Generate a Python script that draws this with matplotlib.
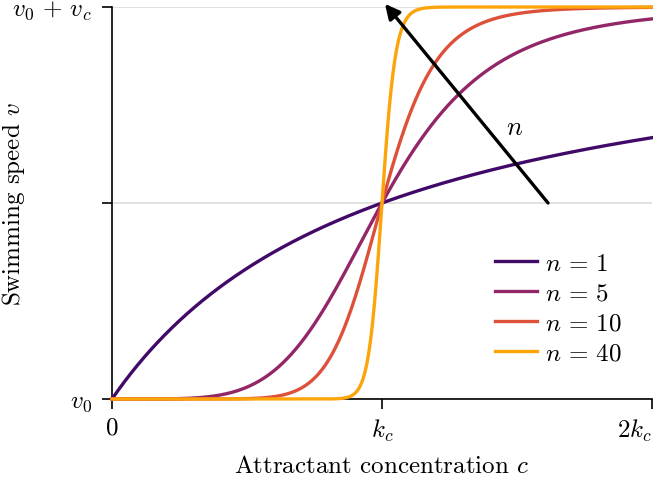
import numpy as np
import matplotlib
matplotlib.use("Agg")
import matplotlib.pyplot as plt

plt.rcParams['font.family'] = 'serif'
plt.rcParams['font.serif'] = ['cmr10']
plt.rcParams['mathtext.fontset'] = 'cm'
plt.rcParams['axes.unicode_minus'] = False
plt.rcParams['axes.formatter.use_mathtext'] = True

# Hill coefficients shown in the legend
hill_n = [1, 5, 10, 40]
color_pos = [0.2, 0.4, 0.6, 0.8]
legend_labels = [r'$n\,=\,1$', r'$n\,=\,5$', r'$n\,=\,10$', r'$n\,=\,40$']
xtick_vals = [0, 1, 2]
xtick_labels = [r'$0$', r'$k_c$', r'$2k_c$']
ytick_vals = [0, 0.5, 1]
ytick_labels = [r'$v_0$', '', r'$v_0\,+\,v_c$']

fig = plt.figure(figsize=(6.53, 4.85), dpi=100)
ax = fig.add_axes([112/653, 1-400/485, 540/653, 392/485])

c = np.linspace(0, 2, 1200)
cmap = plt.get_cmap('inferno')
for n, cp, lab in zip(hill_n, color_pos, legend_labels):
    v = c**n / (1 + c**n)
    ax.plot(c, v, color=cmap(cp), lw=2.4, label=lab, clip_on=False, zorder=3)

ax.set_xlim(0, 2)
ax.set_ylim(0, 1)
ax.set_xticks(xtick_vals)
ax.set_xticklabels(xtick_labels)
ax.set_yticks(ytick_vals)
ax.set_yticklabels(ytick_labels)
ax.tick_params(labelsize=18, length=7.5, width=1.2, direction='out')
ax.tick_params(axis='y', pad=7)
ax.tick_params(axis='x', pad=5)
ax.get_xticklabels()[-1].set_horizontalalignment('right')
for s in ['top', 'right']:
    ax.spines[s].set_visible(False)
for s in ['left', 'bottom']:
    ax.spines[s].set_linewidth(1.2)
ax.grid(axis='y', color='#dddddd', lw=1.2, zorder=0)
ax.set_axisbelow(True)

ax.set_xlabel(r'Attractant concentration $c$', fontsize=18, labelpad=9)
ax.set_ylabel(r'Swimming speed $v$', fontsize=18)
ax.yaxis.set_label_coords(-0.158, 0.5)

ax.annotate('', xy=(1.011, 1.008), xytext=(1.615, 0.5),
            arrowprops=dict(arrowstyle='-|>', color='black', lw=2.4,
                            mutation_scale=22, shrinkA=0, shrinkB=0),
            annotation_clip=False, zorder=5)
ax.text(1.49, 0.694, r'$n$', fontsize=19, ha='center', va='center')

leg = ax.legend(loc='lower right', bbox_to_anchor=(0.985, 0.03), frameon=False,
                fontsize=18, handlelength=1.7, labelspacing=0.3, handletextpad=0.3)

fig.savefig('out.png', dpi=100)
